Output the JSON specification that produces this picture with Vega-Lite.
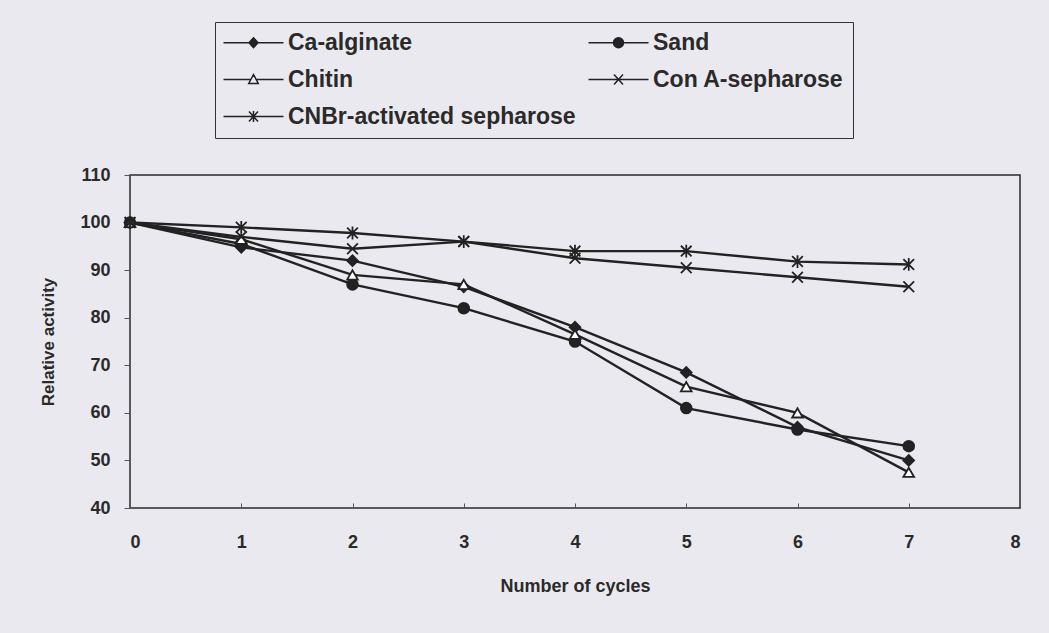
{
  "$schema": "https://vega.github.io/schema/vega-lite/v6.json",
  "width": 890,
  "height": 333,
  "autosize": {"type": "none"},
  "padding": {"left": 130, "top": 175, "right": 29, "bottom": 125},
  "background": "#eae9ef",
  "config": {
    "view": {"stroke": "#2a2a2a", "strokeWidth": 1.5, "fill": "#eae9ef"},
    "font": "Liberation Sans"
  },
  "data": {
    "values": [
      {"material": "Ca-alginate", "cycle": 0, "activity": 100},
      {"material": "Ca-alginate", "cycle": 1, "activity": 94.8},
      {"material": "Ca-alginate", "cycle": 2, "activity": 92},
      {"material": "Ca-alginate", "cycle": 3, "activity": 86.5},
      {"material": "Ca-alginate", "cycle": 4, "activity": 78},
      {"material": "Ca-alginate", "cycle": 5, "activity": 68.5},
      {"material": "Ca-alginate", "cycle": 6, "activity": 57},
      {"material": "Ca-alginate", "cycle": 7, "activity": 50},
      {"material": "Sand", "cycle": 0, "activity": 100},
      {"material": "Sand", "cycle": 1, "activity": 95.5},
      {"material": "Sand", "cycle": 2, "activity": 87},
      {"material": "Sand", "cycle": 3, "activity": 82},
      {"material": "Sand", "cycle": 4, "activity": 75},
      {"material": "Sand", "cycle": 5, "activity": 61},
      {"material": "Sand", "cycle": 6, "activity": 56.5},
      {"material": "Sand", "cycle": 7, "activity": 53},
      {"material": "Chitin", "cycle": 0, "activity": 100},
      {"material": "Chitin", "cycle": 1, "activity": 96.5},
      {"material": "Chitin", "cycle": 2, "activity": 89},
      {"material": "Chitin", "cycle": 3, "activity": 87},
      {"material": "Chitin", "cycle": 4, "activity": 76.5},
      {"material": "Chitin", "cycle": 5, "activity": 65.5},
      {"material": "Chitin", "cycle": 6, "activity": 60},
      {"material": "Chitin", "cycle": 7, "activity": 47.5},
      {"material": "Con A-sepharose", "cycle": 0, "activity": 100},
      {"material": "Con A-sepharose", "cycle": 1, "activity": 97},
      {"material": "Con A-sepharose", "cycle": 2, "activity": 94.5},
      {"material": "Con A-sepharose", "cycle": 3, "activity": 96},
      {"material": "Con A-sepharose", "cycle": 4, "activity": 92.5},
      {"material": "Con A-sepharose", "cycle": 5, "activity": 90.5},
      {"material": "Con A-sepharose", "cycle": 6, "activity": 88.5},
      {"material": "Con A-sepharose", "cycle": 7, "activity": 86.5},
      {"material": "CNBr-activated sepharose", "cycle": 0, "activity": 100},
      {"material": "CNBr-activated sepharose", "cycle": 1, "activity": 99},
      {"material": "CNBr-activated sepharose", "cycle": 2, "activity": 97.8},
      {"material": "CNBr-activated sepharose", "cycle": 3, "activity": 96},
      {"material": "CNBr-activated sepharose", "cycle": 4, "activity": 94},
      {"material": "CNBr-activated sepharose", "cycle": 5, "activity": 94},
      {"material": "CNBr-activated sepharose", "cycle": 6, "activity": 91.8},
      {"material": "CNBr-activated sepharose", "cycle": 7, "activity": 91.2}
    ]
  },
  "encoding": {
    "x": {
      "field": "cycle",
      "type": "quantitative",
      "scale": {"domain": [0, 8], "nice": false},
      "axis": {
        "title": "Number of cycles",
        "values": [0, 1, 2, 3, 4, 5, 6, 7, 8],
        "grid": false,
        "domain": false,
        "tickSize": -5,
        "tickColor": "#555",
        "labelPadding": 30,
        "labelFontSize": 18,
        "labelFontWeight": "bold",
        "labelColor": "#2a2a2a",
        "titleFontSize": 18,
        "titleFontWeight": "bold",
        "titleColor": "#2a2a2a",
        "titlePadding": 26
      }
    },
    "y": {
      "field": "activity",
      "type": "quantitative",
      "scale": {"domain": [40, 110], "nice": false},
      "axis": {
        "title": "Relative activity",
        "values": [40, 50, 60, 70, 80, 90, 100, 110],
        "grid": false,
        "domain": false,
        "tickSize": 6,
        "tickColor": "#555",
        "labelPadding": 14,
        "labelFontSize": 18,
        "labelFontWeight": "bold",
        "labelColor": "#2a2a2a",
        "titleFontSize": 17,
        "titleFontWeight": "bold",
        "titleColor": "#2a2a2a",
        "titlePadding": 22
      }
    }
  },
  "resolve": {"scale": {"shape": "independent"}},
  "layer": [
    {
      "mark": {"type": "line", "stroke": "#222", "strokeWidth": 2.4},
      "encoding": {"detail": {"field": "material"}}
    },
    {
      "mark": {"type": "point", "filled": true, "opacity": 1, "stroke": "#222", "strokeWidth": 1.8, "size": 115},
      "encoding": {
        "shape": {
          "field": "material",
          "type": "nominal",
          "scale": {
            "domain": ["Ca-alginate", "Sand", "Chitin", "Con A-sepharose", "CNBr-activated sepharose"],
            "range": ["diamond", "circle", "triangle-up", "M-1,-1L1,1M-1,1L1,-1", "M-1,-1L1,1M-1,1L1,-1M0,-1.2L0,1.2"]
          },
          "legend": null
        },
        "fill": {
          "field": "material",
          "type": "nominal",
          "scale": {
            "domain": ["Ca-alginate", "Sand", "Chitin", "Con A-sepharose", "CNBr-activated sepharose"],
            "range": ["#222", "#222", "#ffffff", "#222", "#222"]
          },
          "legend": null
        }
      }
    },
    {
      "mark": {"type": "point", "filled": true, "opacity": 1, "color": "#222", "stroke": "#222", "strokeWidth": 2, "size": 0},
      "encoding": {
        "shape": {
          "field": "material",
          "type": "nominal",
          "scale": {
            "domain": ["Ca-alginate", "Sand", "Chitin", "Con A-sepharose", "CNBr-activated sepharose"],
            "range": [
              "M-6,0H6M0,-1L0.9,0L0,1L-0.9,0Z",
              "M-6,0H6M1,0A1,1,0,1,1,-1,0A1,1,0,1,1,1,0Z",
              "M-6,0H-0.55M0.55,0H6M0,-1L0.95,0.8L-0.95,0.8ZM0,-1L-0.95,0.8L0.95,0.8Z",
              "M-6,0H6M-0.9,-1L0.9,1M-0.9,1L0.9,-1",
              "M-6,0H6M-0.9,-1L0.9,1M-0.9,1L0.9,-1M0,-1.1L0,1.1"
            ]
          },
          "legend": {
            "orient": "none",
            "direction": "horizontal",
            "legendX": 85,
            "legendY": -153,
            "columns": 2,
            "columnPadding": 9,
            "rowPadding": 13,
            "title": null,
            "labelFontSize": 23,
            "labelFontWeight": "bold",
            "labelColor": "#2a2a2a",
            "labelLimit": 500,
            "labelOffset": 23,
            "symbolSize": 100,
            "symbolOffset": 18,
            "symbolOpacity": 1,
            "padding": 9,
            "strokeColor": "#333"
          }
        }
      }
    }
  ]
}
